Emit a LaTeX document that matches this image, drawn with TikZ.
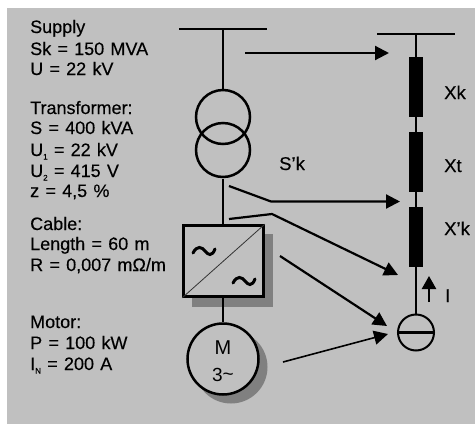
\documentclass[tikz,border=0pt]{standalone}
\usepackage{fontspec}
\setmainfont[WordSpace=1.25]{Liberation Sans}
\usetikzlibrary{arrows.meta}
\definecolor{bgc}{HTML}{C0C0C0}
\definecolor{shc}{HTML}{808080}
\newcommand{\lowsub}[1]{\raisebox{-3.5pt}{\fontsize{8}{8}\selectfont #1}}
\newcommand{\heavier}{\addfontfeature{FakeBold=0.25}}
\tikzset{
  x=1pt,y=-1pt,
  wire/.style={line width=2.3pt,black},
  callout/.style={line width=2.2pt,black,-{Triangle[length=14pt,width=14pt]}},
  calloutthin/.style={line width=1.6pt,black,-{Triangle[length=14pt,width=14pt]}},
  info/.style={anchor=base west,inner sep=0pt,font=\fontsize{18}{18}\selectfont\heavier},
  lab/.style={anchor=base west,inner sep=0pt,font=\fontsize{18.5}{18}\selectfont\heavier},
  reactance/.style={fill=black,draw=none,minimum width=14.5pt,minimum height=60pt,inner sep=0pt},
  tilde/.style={line width=3pt,black,line cap=round}
}
\begin{document}
\begin{tikzpicture}
\useasboundingbox (0,0) rectangle (475,424);
\fill[white] (0,0) rectangle (475,424);
\fill[bgc] (7,8) rectangle (475,424);
% texts
\node[info] (t1) at (30,33) {Supply};
\node[info] (t2) at (30,55) {Sk = 150 MVA};
\node[info] (t3) at (30,75) {U = 22 kV};
\node[info] (t4) at (30,114) {Transformer:};
\node[info] (t5) at (30,134) {S = 400 kVA};
\node[info] (t6) at (30,156) {U\lowsub{1} = 22 kV};
\node[info] (t7) at (30,177) {U\lowsub{2} = 415 V};
\node[info] (t8) at (30,197) {z = 4,5 \%};
\node[info] (t9) at (30,230) {Cable:};
\node[info] (t10) at (30,250) {Length = 60 m};
\node[info] (t11) at (30,271) {R = 0,007 mΩ/m};
\node[info] (t12) at (30,328) {Motor:};
\node[info] (t13) at (30,349) {P = 100 kW};
\node[info] (t14) at (30,370) {I\lowsub{N} = 200 A};
% left column
\coordinate (busL) at (179,29);
\coordinate (busR) at (267,29);
\coordinate (busM) at (223,29);
\node[circle,draw=black,line width=2.5pt,minimum size=54pt,inner sep=0pt] (tr1) at (223,117) {};
\node[circle,draw=black,line width=2.5pt,minimum size=54pt,inner sep=0pt] (tr2) at (223,150) {};
\draw[wire] (busL) -- (busR);
\draw[wire] (busM) -- (tr1.north);
\coordinate (trout) at (223,179);
\fill[shc] (192,234) rectangle (273,307);
\node[draw=black,line width=2.5pt,fill=bgc,minimum width=80pt,minimum height=71pt,inner sep=0pt] (conv) at (223.5,261) {};
\draw[wire] (trout) -- (conv.north -| trout);
\draw[line width=0.8pt,black!80] (conv.south west) -- (conv.north east);
\draw[tilde] (193,253) .. controls (197,245) and (202,247) .. (205,251) .. controls (208,255) and (212,257) .. (215,249);
\draw[tilde] (233,283) .. controls (237,275) and (242,277) .. (245,281) .. controls (248,285) and (252,287) .. (255,279);
\fill[shc] (231,367) circle (36.5);
\node[circle,draw=black,line width=2.5pt,fill=bgc,minimum size=71pt,inner sep=0pt] (motor) at (223,359) {};
\draw[wire] (conv.south -| motor) -- (motor.north);
\node[inner sep=0pt,font=\fontsize{20}{20}\selectfont] (mm) at (223,348) {M};
\node[inner sep=0pt,font=\fontsize{19}{19}\selectfont] (m3) at (223,375) {3\raisebox{1pt}{\textasciitilde}};
% right column
\coordinate (rbL) at (377,34);
\coordinate (rbR) at (455,34);
\coordinate (rbM) at (416,34);
\node[circle,draw=black,line width=2pt,minimum size=36pt,inner sep=0pt] (src) at (416,332.5) {};
\draw[wire] (rbL) -- (rbR);
\draw[wire] (rbM) -- (src.north);
\draw[wire] (src.west) -- (src.east);
\node[reactance] (x1) at (416,86.5) {};
\node[reactance] (x2) at (416,161.5) {};
\node[reactance] (x3) at (416,236.5) {};
\node[lab] (lk) at (444,99) {Xk};
\node[lab] (lt) at (444,172) {Xt};
\node[lab] (lx) at (444,235) {X'k};
\node[lab] (ls) at (279,170) {S'k};
\node[lab] (li) at (445,302) {I};
% arrows
\coordinate (a1s) at (245,53);
\coordinate (a1e) at (389,53);
\draw[callout] (a1s) -- (a1e);
\coordinate (a2s) at (229,186);
\coordinate (a2m) at (271,201.5);
\coordinate (a2e) at (400,201.5);
\draw[callout] (a2s) -- (a2m) -- (a2e);
\coordinate (a3s) at (229,219);
\coordinate (a3m) at (272,214);
\coordinate (a3e) at (398,275);
\draw[callout] (a3s) -- (a3m) -- (a3e);
\coordinate (a4s) at (280,256);
\coordinate (a4e) at (387,326);
\draw[callout] (a4s) -- (a4e);
\coordinate (a5s) at (283,362);
\coordinate (a5e) at (388,334);
\draw[calloutthin] (a5s) -- (a5e);
\coordinate (a6s) at (429,302);
\coordinate (a6e) at (429,276);
\draw[line width=2.5pt,-{Triangle[length=13pt,width=14pt]}] (a6s) -- (a6e);
\end{tikzpicture}
\end{document}
